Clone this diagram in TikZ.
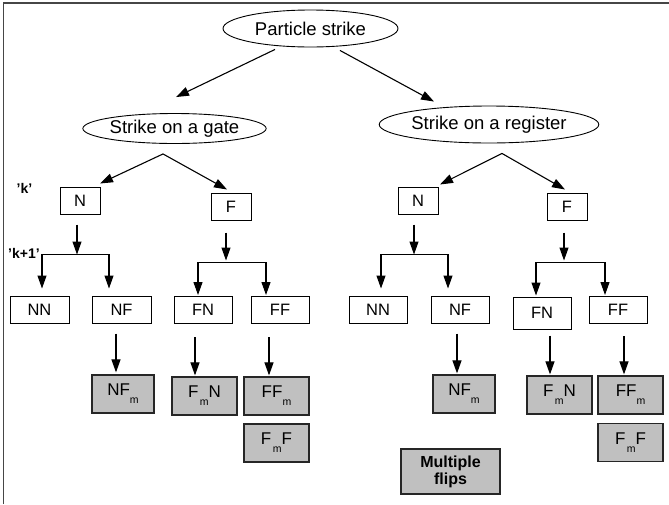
\documentclass[tikz,border=0pt]{standalone}
\usepackage{fontspec}
\setmainfont{Liberation Sans}
\usetikzlibrary{shapes.geometric,arrows.meta}
\definecolor{boxgray}{RGB}{192,192,192}
\definecolor{framegray}{RGB}{70,70,70}
\newcommand{\subm}{\raisebox{-8pt}{\fontsize{10.5}{10.5}\selectfont m}}
\begin{document}
\begin{tikzpicture}[x=1pt,y=-1pt,
  arr/.style={line width=1.1pt,-{Triangle[length=13pt,width=9pt]}},
  ell/.style={ellipse,draw,line width=0.9pt,inner sep=0pt,font=\fontsize{18.5}{20}\selectfont},
  box/.style={draw,line width=1pt,inner sep=0pt,minimum width=59pt,minimum height=27pt,font=\fontsize{16.5}{18}\selectfont},
  sbox/.style={box,minimum width=40pt},
  gbox/.style={box,fill=boxgray,draw=black!85,line width=1.2pt,minimum width=64pt,minimum height=38pt,font=\fontsize{17}{18}\selectfont},
  lab/.style={font=\bfseries\fontsize{14}{15}\selectfont,inner sep=0pt}]
\useasboundingbox (0,0) rectangle (669,504);
% frame (top and left edges)
\draw[framegray,line width=1.3pt] (3.5,504) -- (3.5,3) -- (669,3);

% ellipses
\node[ell,minimum width=175pt,minimum height=37pt] (ps) at (310.5,28.5) {Particle strike};
\node[ell,minimum width=177pt,minimum height=30pt] (gate) at (174.5,128.5) {Strike on a gate};
\node[ell,minimum width=176pt,minimum height=37pt] (reg) at (489,124.5) {Strike on a register};

% labels
\node[lab] (k) at (24.5,188.5) {'k'};
\node[lab] (k1) at (24,253) {'k+1'};

% left subtree
\node[sbox] (N1) at (80,200.5) {N};
\node[sbox] (F1) at (231,206.5) {F};
\node[box] (NN1) at (39.5,309.5) {NN};
\node[box] (NF1) at (121.5,309.5) {NF};
\node[box,minimum width=58pt] (FN1) at (203,310) {FN};
\node[box,minimum width=58pt] (FF1) at (280,310) {FF};
\node[gbox,minimum width=62pt] (NFm1) at (123,394) {NF\subm};
\node[gbox,minimum width=65pt] (FmN1) at (204.5,396) {F\kern1.5pt\subm N};
\node[gbox,minimum width=65pt] (FFm1) at (276.5,396) {FF\subm};
\node[gbox,minimum width=65pt] (FmF1) at (276.5,443) {F\kern1.5pt\subm F};

% right subtree
\node[sbox] (N2) at (418,200.5) {N};
\node[sbox] (F2) at (567,206.5) {F};
\node[box,minimum width=58pt] (NN2) at (378,309.5) {NN};
\node[box,minimum width=58pt] (NF2) at (460,309.5) {NF};
\node[box,minimum width=58pt,minimum height=32pt] (FN2) at (542,313) {FN};
\node[box,minimum width=58pt] (FF2) at (618,310) {FF};
\node[gbox,minimum width=62pt] (NFm2) at (464,394) {NF\subm};
\node[gbox,minimum width=65pt] (FmN2) at (559.5,395) {F\kern1.5pt\subm N};
\node[gbox,minimum width=65pt] (FFm2) at (630.5,395) {FF\subm};
\node[gbox,minimum width=65pt] (FmF2) at (630.5,442.5) {F\kern1.5pt\subm F};
\node[gbox,minimum width=99pt,minimum height=45pt,align=center,font=\bfseries\fontsize{16}{17}\selectfont] (mf) at (450.5,471.5) {Multiple\\flips};

% top arrows
\draw[arr] ([shift={(-35.5,2)}]ps.south) -- ([shift={(1.5,-16)}]gate.north);
\draw[arr] ([shift={(29.5,3)}]ps.south) -- ([shift={(-55,-4)}]reg.north);

% gate fan-out
\coordinate (ga) at ([shift={(-11.5,10)}]gate.south);
\draw[arr] (ga) -- ([shift={(20,-3)}]N1.north);
\draw[arr] (ga) -- ([shift={(-4,-3)}]F1.north);
% register fan-out
\coordinate (ra) at ([shift={(13,10)}]reg.south);
\draw[arr] (ra) -- ([shift={(22,-2)}]N2.north);
\draw[arr] (ra) -- ([shift={(-2,-3)}]F2.north);

% left N branch
\coordinate (nb1) at ([shift={(-3,40)}]N1.south);
\draw[arr] ([shift={(-3,10)}]N1.south) -- (nb1);
\draw[arr] (nb1) -| ([shift={(2.5,-7)}]NN1.north);
\draw[arr] (nb1) -| ([shift={(-12.5,-7)}]NF1.north);
% left F branch
\coordinate (fb1) at ([shift={(-5,42)}]F1.south);
\draw[arr] ([shift={(-5,12)}]F1.south) -- ([shift={(-5,40)}]F1.south);
\draw[arr] (fb1) -| ([shift={(-5,-1)}]FN1.north);
\draw[arr] (fb1) -| ([shift={(-14,-1)}]FF1.north);

% right N branch
\coordinate (nb2) at ([shift={(-4,40)}]N2.south);
\draw[arr] ([shift={(-4,10)}]N2.south) -- (nb2);
\draw[arr] (nb2) -| ([shift={(3,-7)}]NN2.north);
\draw[arr] (nb2) -| ([shift={(-12,-7)}]NF2.north);
% right F branch
\coordinate (fb2) at ([shift={(-3,42)}]F2.south);
\draw[arr] ([shift={(-3,12)}]F2.south) -- ([shift={(-3,40)}]F2.south);
\draw[arr] (fb2) -| ([shift={(-6,-1)}]FN2.north);
\draw[arr] (fb2) -| ([shift={(-13,-1)}]FF2.north);

% down arrows to gray boxes
\draw[arr] ([shift={(-5.5,10)}]NF1.south) -- ([shift={(-7,-2)}]NFm1.north);
\draw[arr] ([shift={(-8,13)}]FN1.south) -- ([shift={(-9.5,-1)}]FmN1.north);
\draw[arr] ([shift={(-11,13)}]FF1.south) -- ([shift={(-7.5,-1)}]FFm1.north);
\draw[arr] ([shift={(-3,10)}]NF2.south) -- ([shift={(-7,-1)}]NFm2.north);
\draw[arr] ([shift={(8,6)}]FN2.south) -- ([shift={(-9.5,-1)}]FmN2.north);
\draw[arr] ([shift={(6,12)}]FF2.south) -- ([shift={(-6.5,-1)}]FFm2.north);
\end{tikzpicture}
\end{document}
